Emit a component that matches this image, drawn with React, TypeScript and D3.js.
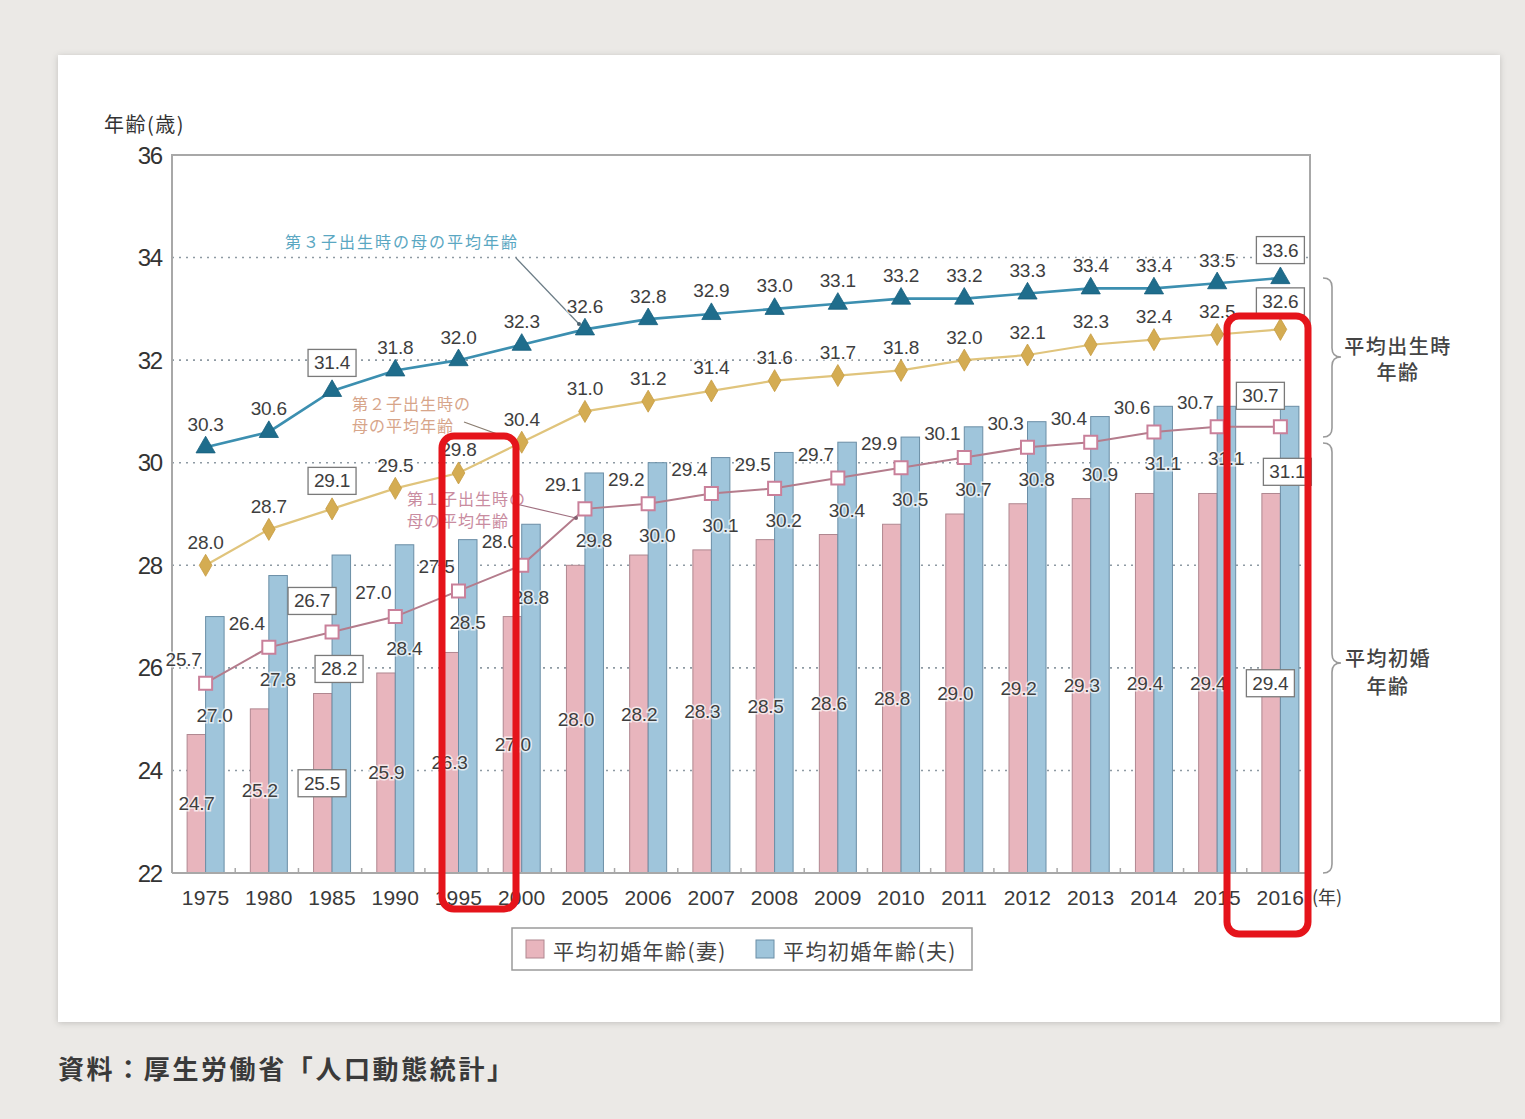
import React from "react";
import * as d3 from "d3";

const years = ["1975","1980","1985","1990","1995","2000","2005","2006","2007","2008","2009","2010","2011","2012","2013","2014","2015","2016"];
const wifeAge = [24.7,25.2,25.5,25.9,26.3,27.0,28.0,28.2,28.3,28.5,28.6,28.8,29.0,29.2,29.3,29.4,29.4,29.4];
const husbandAge = [27.0,27.8,28.2,28.4,28.5,28.8,29.8,30.0,30.1,30.2,30.4,30.5,30.7,30.8,30.9,31.1,31.1,31.1];
const firstChild = [25.7,26.4,26.7,27.0,27.5,28.0,29.1,29.2,29.4,29.5,29.7,29.9,30.1,30.3,30.4,30.6,30.7,30.7];
const secondChild = [28.0,28.7,29.1,29.5,29.8,30.4,31.0,31.2,31.4,31.6,31.7,31.8,32.0,32.1,32.3,32.4,32.5,32.6];
const thirdChild = [30.3,30.6,31.4,31.8,32.0,32.3,32.6,32.8,32.9,33.0,33.1,33.2,33.2,33.3,33.4,33.4,33.5,33.6];
const yTicks = [22,24,26,28,30,32,34,36];
const boxedYears = ["1985","2016"];

const W = 1525, H = 1119;
const NUM_FONT = "'Liberation Sans', Arial, sans-serif";
const JP_FONT = "'Noto Sans CJK JP', sans-serif";

function Label({ x, y, text, boxed }: { x: number; y: number; text: string; boxed: boolean }) {
  const w = 48, h = 27;
  return (
    <g>
      {boxed && <rect x={x - w / 2} y={y - h / 2} width={w} height={h} fill="#fff" stroke="#7a7a7a" strokeWidth={1.3} />}
      <text x={x} y={y} textAnchor="middle" dominantBaseline="central" fontFamily={NUM_FONT} fontSize={19} letterSpacing={-0.2}
        fill="#3e3e3e" stroke={boxed ? "none" : "#fff"} strokeWidth={3} strokeOpacity={0.7} style={{ paintOrder: "stroke" }}>{text}</text>
    </g>
  );
}

function brace(x0: number, y0: number, y1: number, ym: number) {
  const c = 9;
  return `M${x0},${y0} Q${x0 + c},${y0} ${x0 + c},${y0 + c} L${x0 + c},${ym - c} Q${x0 + c},${ym} ${x0 + 2 * c},${ym} Q${x0 + c},${ym} ${x0 + c},${ym + c} L${x0 + c},${y1 - c} Q${x0 + c},${y1} ${x0},${y1}`;
}

export default function App() {
  const x = d3.scaleBand<string>().domain(years).range([172, 1310]).padding(0);
  const y = d3.scaleLinear().domain([22, 36]).range([873, 155]);
  const cx = (yr: string) => (x(yr) as number) + x.bandwidth() / 2 + 2;
  const bw = 18.5;

  const lineGen = (vals: number[]) =>
    d3.line<number>().x((_, i) => cx(years[i])).y((v) => y(v))(vals) as string;

  const tri = d3.symbol().type(d3.symbolTriangle).size(160)() as string;
  const dia = d3.symbol().type(d3.symbolDiamond).size(140)() as string;
  const sq = d3.symbol().type(d3.symbolSquare).size(170)() as string;

  const fmt = d3.format(".1f");
  const jp = { fontFamily: JP_FONT } as const;

  return (
    <svg width={W} height={H} style={{ position: "absolute", left: 0, top: 0, display: "block" }}>
      <defs>
        <filter id="shadow" x="-5%" y="-5%" width="110%" height="110%">
          <feDropShadow dx="0" dy="1" stdDeviation="3" floodColor="#000" floodOpacity="0.18" />
        </filter>
      </defs>
      <rect x={0} y={0} width={W} height={H} fill="#ebe9e6" />
      <rect x={58} y={55} width={1442} height={967} fill="#fff" filter="url(#shadow)" />

      {/* grid lines */}
      {yTicks.filter((t) => t > 22 && t < 36).map((t) => (
        <line key={t} x1={172} x2={1310} y1={y(t)} y2={y(t)} stroke="#8e9aa3" strokeWidth={1.6} strokeDasharray="2 5" />
      ))}

      {/* bars */}
      {years.map((yr, i) => (
        <g key={yr}>
          <rect x={cx(yr) - bw} y={y(wifeAge[i])} width={bw} height={y(22) - y(wifeAge[i])} fill="#e8b5bd" stroke="#b08790" strokeWidth={1} />
          <rect x={cx(yr)} y={y(husbandAge[i])} width={bw} height={y(22) - y(husbandAge[i])} fill="#9fc5db" stroke="#6b8ea6" strokeWidth={1} />
        </g>
      ))}

      {/* frame */}
      <path d={`M172,${y(22)} L172,${y(36)} L1310,${y(36)} L1310,${y(22)}`} fill="none" stroke="#a8a8a8" strokeWidth={2} />
      <line x1={172} x2={1310} y1={y(22)} y2={y(22)} stroke="#a8a8a8" strokeWidth={2} />
      {years.map((yr) => (
        <line key={yr} x1={(x(yr) as number)} x2={(x(yr) as number)} y1={y(22)} y2={y(22) - 5} stroke="#a8a8a8" strokeWidth={1.5} />
      ))}

      {/* y axis */}
      {yTicks.map((t) => (
        <text key={t} x={162} y={y(t)} textAnchor="end" dominantBaseline="central" fontFamily={NUM_FONT} fontSize={24} letterSpacing={-1.2} fill="#333">{t}</text>
      ))}
      <text x={104} y={132} {...jp} fontSize={20} letterSpacing={1.5} fill="#333">年齢(歳)</text>

      {/* x axis */}
      {years.map((yr) => (
        <text key={yr} x={cx(yr)} y={897} textAnchor="middle" dominantBaseline="central" fontFamily={NUM_FONT} fontSize={21} letterSpacing={0.2} fill="#3a3a3a">{yr}</text>
      ))}
      <text x={1312} y={896} dominantBaseline="central" {...jp} fontSize={18} fill="#3a3a3a">(年)</text>

      {/* lines */}
      <path d={lineGen(thirdChild)} fill="none" stroke="#3c8fb0" strokeWidth={2.6} />
      <path d={lineGen(secondChild)} fill="none" stroke="#e0c47c" strokeWidth={2.2} />
      <path d={lineGen(firstChild)} fill="none" stroke="#b47c8c" strokeWidth={2} />

      {/* leader lines */}
      <line x1={516} y1={258} x2={579} y2={324} stroke="#6b7c86" strokeWidth={1.2} />
      <circle cx={579} cy={324} r={2} fill="#4b6270" />
      <line x1={464} y1={422} x2={514} y2={440} stroke="#8a7d70" strokeWidth={1.2} />
      <circle cx={514} cy={440} r={2} fill="#6a5d50" />
      <line x1={516} y1={504} x2={576} y2={518} stroke="#a07080" strokeWidth={1.2} />
      <circle cx={576} cy={518} r={2} fill="#806070" />

      {/* markers */}
      {years.map((yr, i) => (
        <g key={yr}>
          <path d={tri} transform={`translate(${cx(yr)},${y(thirdChild[i])})`} fill="#1f6d8c" stroke="#17607d" strokeWidth={0.8} />
          <path d={dia} transform={`translate(${cx(yr)},${y(secondChild[i])})`} fill="#d4ac52" stroke="#c69c42" strokeWidth={0.8} />
          <path d={sq} transform={`translate(${cx(yr)},${y(firstChild[i])})`} fill="#fff" stroke="#c9809a" strokeWidth={2} />
        </g>
      ))}

      {/* annotations */}
      <text x={285} y={248} {...jp} fontSize={16} letterSpacing={2} fill="#5aa7c2">第３子出生時の母の平均年齢</text>
      <text x={352} y={410} {...jp} fontSize={16} letterSpacing={1} fill="#d7a58a">第２子出生時の</text>
      <text x={352} y={432} {...jp} fontSize={16} letterSpacing={1} fill="#d7a58a">母の平均年齢</text>
      <text x={407} y={505} {...jp} fontSize={16} letterSpacing={1} fill="#c98ca0">第１子出生時の</text>
      <text x={407} y={527} {...jp} fontSize={16} letterSpacing={1} fill="#c98ca0">母の平均年齢</text>

      {/* data labels */}
      {years.map((yr, i) => {
        const b = boxedYears.includes(yr);
        const c = cx(yr);
        const last = i === years.length - 1;
        return (
          <g key={yr}>
            <Label x={c} y={y(thirdChild[i]) - (b ? 28 : 23)} text={fmt(thirdChild[i])} boxed={b} />
            <Label x={c} y={y(secondChild[i]) - (b ? 28 : 23)} text={fmt(secondChild[i])} boxed={b} />
            <Label x={c - (b ? 20 : 22)} y={y(firstChild[i]) - (b ? 31 : 24)} text={fmt(firstChild[i])} boxed={b} />
            <Label x={c + (b ? 7 : 9)} y={y(firstChild[i]) + (last ? 45 : b ? 37 : 32)} text={fmt(husbandAge[i])} boxed={b} />
            <Label x={c - (b ? 10 : 9)} y={(y(wifeAge[i]) + y(22)) / 2} text={fmt(wifeAge[i])} boxed={b} />
          </g>
        );
      })}

      {/* braces */}
      <path d={brace(1323, 278, 437, 357)} fill="none" stroke="#9a9a9a" strokeWidth={1.6} />
      <path d={brace(1323, 443, 873, 663)} fill="none" stroke="#9a9a9a" strokeWidth={1.6} />
      <text x={1398} y={345} textAnchor="middle" dominantBaseline="central" {...jp} fontSize={20} letterSpacing={1.5} fontWeight={500} fill="#444">平均出生時</text>
      <text x={1398} y={371} textAnchor="middle" dominantBaseline="central" {...jp} fontSize={20} letterSpacing={1.5} fontWeight={500} fill="#444">年齢</text>
      <text x={1388} y={657} textAnchor="middle" dominantBaseline="central" {...jp} fontSize={20} letterSpacing={1.5} fontWeight={500} fill="#444">平均初婚</text>
      <text x={1388} y={685} textAnchor="middle" dominantBaseline="central" {...jp} fontSize={20} letterSpacing={1.5} fontWeight={500} fill="#444">年齢</text>

      {/* legend */}
      <rect x={512} y={928} width={460} height={42} fill="#fff" stroke="#9a9a9a" strokeWidth={1.5} />
      <rect x={526} y={940} width={18} height={18} fill="#e8b5bd" stroke="#b08790" />
      <text x={553} y={950} dominantBaseline="central" {...jp} fontSize={21} letterSpacing={1.4} fill="#444">平均初婚年齢(妻)</text>
      <rect x={756} y={940} width={18} height={18} fill="#9fc5db" stroke="#6b8ea6" />
      <text x={783} y={950} dominantBaseline="central" {...jp} fontSize={21} letterSpacing={1.4} fill="#444">平均初婚年齢(夫)</text>

      {/* footer */}
      <text x={58} y={1067} dominantBaseline="central" {...jp} fontSize={26} letterSpacing={2.6} fontWeight={700} fill="#3a3a3a">資料：厚生労働省「人口動態統計」</text>

      {/* red highlight boxes */}
      <rect x={442} y={436} width={74} height={473} rx={12} fill="none" stroke="#e5141b" strokeWidth={7} />
      <rect x={1227} y={316} width={81} height={618} rx={12} fill="none" stroke="#e5141b" strokeWidth={7} />
    </svg>
  );
}
